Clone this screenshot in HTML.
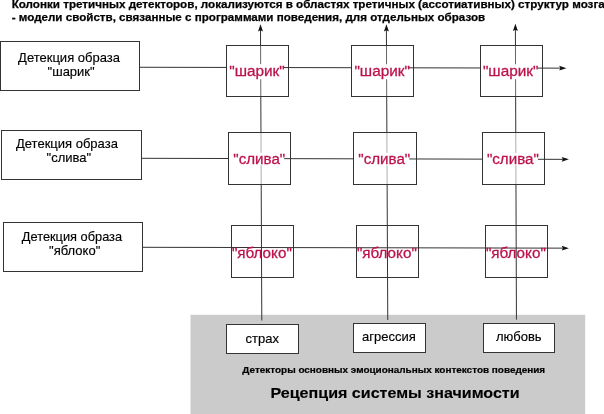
<!DOCTYPE html>
<html><head><meta charset="utf-8">
<style>
html,body{margin:0;padding:0;background:#fff;width:604px;height:414px;overflow:hidden}
svg{display:block;will-change:transform}
text{font-family:"Liberation Sans",sans-serif}
.t{font-size:11.65px;font-weight:bold;fill:#000;stroke:#000;stroke-width:0.25px}
.l{font-size:13px;fill:#000;stroke:#000;stroke-width:0.15px}
.r{font-size:15.5px;fill:#bc134c;stroke:#bc134c;stroke-width:0.3px}
.e{font-size:13px;fill:#000;stroke:#000;stroke-width:0.15px}
.bx{fill:#fff;stroke:#333;stroke-width:1}
.ln{stroke:#333;stroke-width:1;fill:none}
</style></head><body>
<svg width="604" height="414" viewBox="0 0 604 414">
<rect x="190.5" y="314.8" width="394.7" height="99.2" fill="#cbcbcb"/>
<text class="t" x="11.7" y="8">Колонки третичных детекторов, локализуются в областях третичных (ассотиативных) структур мозга</text>
<text class="t" x="11.7" y="21.0" textLength="473.5" lengthAdjust="spacingAndGlyphs">- модели свойств, связанные с программами поведения, для отдельных образов</text>
<rect class="bx" x="231.5" y="225.5" width="62" height="52"/>
<rect class="bx" x="356.5" y="225.5" width="62" height="52"/>
<rect class="bx" x="485.5" y="225.5" width="62" height="52"/>
<line class="ln" x1="260.5" y1="29.3" x2="261.8" y2="320.5"/>
<path d="M260.5 24.3 L258.0 31.5 L260.5 30.3 L263.0 31.5 Z" fill="#111"/>
<line class="ln" x1="386.4" y1="29.3" x2="387.75" y2="320"/>
<path d="M386.4 24.3 L383.9 31.5 L386.4 30.3 L388.9 31.5 Z" fill="#111"/>
<line class="ln" x1="515.4" y1="28.8" x2="516.45" y2="319.6"/>
<path d="M515.4 23.8 L512.9 31.0 L515.4 29.8 L517.9 31.0 Z" fill="#111"/>
<rect class="bx" x="0.5" y="41.5" width="139" height="49"/>
<text class="l" x="18.1" y="61.9">Детекция образа</text>
<text class="l" x="47.6" y="75.7">"шарик"</text>
<rect class="bx" x="1.5" y="130.5" width="140" height="49"/>
<text class="l" x="16.0" y="147.6">Детекция образа</text>
<text class="l" x="46.6" y="162.1">"слива"</text>
<rect class="bx" x="3.5" y="222.5" width="139" height="49"/>
<text class="l" x="21.8" y="240.5" textLength="100.3" lengthAdjust="spacingAndGlyphs">Детекция образа</text>
<text class="l" x="49.1" y="255.0">"яблоко"</text>
<rect class="bx" x="226.5" y="45.5" width="62" height="51" style="fill-opacity:0.25"/>
<rect class="bx" x="351.5" y="45.5" width="62" height="51" style="fill-opacity:0.25"/>
<rect class="bx" x="480.5" y="45.5" width="62" height="51" style="fill-opacity:0.25"/>
<rect class="bx" x="228.5" y="132.5" width="62" height="52" style="fill-opacity:0.6"/>
<rect class="bx" x="353.5" y="132.5" width="63" height="52" style="fill-opacity:0.6"/>
<rect class="bx" x="482.5" y="132.5" width="62" height="52" style="fill-opacity:0.6"/>
<line class="ln" x1="139.5" y1="67.25" x2="561.4" y2="68.15"/>
<path d="M566.4 68.15 L559.1999999999999 65.75 L560.4 68.15 L559.1999999999999 70.55000000000001 Z" fill="#111"/>
<line class="ln" x1="141.5" y1="158.3" x2="563.9" y2="159.35"/>
<path d="M568.9 159.35 L561.6999999999999 156.95 L562.9 159.35 L561.6999999999999 161.75 Z" fill="#111"/>
<line class="ln" x1="142.5" y1="247.3" x2="563.9" y2="248.15"/>
<path d="M568.9 248.15 L561.6999999999999 245.75 L562.9 248.15 L561.6999999999999 250.55 Z" fill="#111"/>
<rect x="227.0" y="64.2" width="56.8" height="15.0" fill="#fff"/>
<text class="r" x="229.2" y="75.8" textLength="55.6" lengthAdjust="spacingAndGlyphs">"шарик"</text>
<rect x="352.0" y="64.2" width="57.0" height="15.0" fill="#fff"/>
<text class="r" x="354.4" y="75.8" textLength="55.6" lengthAdjust="spacingAndGlyphs">"шарик"</text>
<rect x="481.0" y="64.2" width="56.5" height="15.0" fill="#fff"/>
<text class="r" x="482.9" y="75.8" textLength="55.6" lengthAdjust="spacingAndGlyphs">"шарик"</text>
<rect x="229.0" y="152.8" width="55.2" height="12.4" fill="#fff"/>
<text class="r" x="233.3" y="164.45" textLength="51.95" lengthAdjust="spacingAndGlyphs">"слива"</text>
<rect x="354.0" y="152.8" width="55.2" height="12.4" fill="#fff"/>
<text class="r" x="358.3" y="164.45" textLength="51.95" lengthAdjust="spacingAndGlyphs">"слива"</text>
<rect x="483.0" y="152.8" width="54.9" height="12.4" fill="#fff"/>
<text class="r" x="486.9" y="164.45" textLength="51.95" lengthAdjust="spacingAndGlyphs">"слива"</text>
<text class="r" x="231.9" y="258.2" textLength="59.9" lengthAdjust="spacingAndGlyphs">"яблоко"</text>
<text class="r" x="356.9" y="258.2" textLength="59.9" lengthAdjust="spacingAndGlyphs">"яблоко"</text>
<text class="r" x="485.9" y="258.2" textLength="59.9" lengthAdjust="spacingAndGlyphs">"яблоко"</text>
<rect class="bx" x="226.5" y="324.5" width="72" height="29"/>
<text class="e" x="245.5" y="343">страх</text>
<rect class="bx" x="353.5" y="323.5" width="72" height="29"/>
<text class="e" x="362" y="340.8">агрессия</text>
<rect class="bx" x="483.5" y="323.5" width="71" height="29"/>
<text class="e" x="495.9" y="340.8">любовь</text>
<text x="242.3" y="372.5" style="font-size:9.95px;font-weight:bold;stroke:#000;stroke-width:0.2px">Детекторы основных эмоциональных контекстов поведения</text>
<text x="270.5" y="397.8" transform="matrix(1,0,0,0.9,0,39.78)" style="font-size:16.08px;font-weight:bold;stroke:#000;stroke-width:0.15px">Рецепция системы значимости</text>
</svg>
</body></html>
